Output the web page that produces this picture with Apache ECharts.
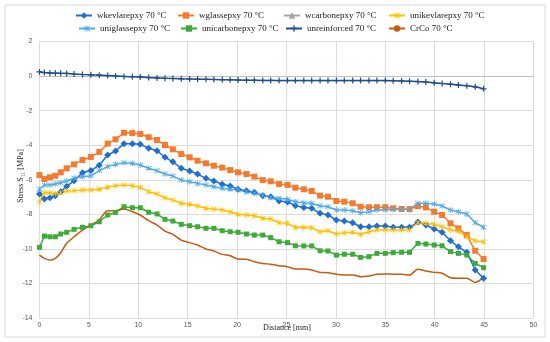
<!DOCTYPE html>
<html><head><meta charset="utf-8">
<script src="https://cdn.jsdelivr.net/npm/echarts@6/dist/echarts.min.js"></script>
<style>html,body{margin:0;padding:0;background:#fff}#c{width:550px;height:342px}</style>
</head><body><div id="c"></div>
<script>
const distance = [0,0.5,1.05,1.6,2.15,2.75,3.5,4.35,5.2,6.05,6.9,7.7,8.55,9.4,10.2,11.05,11.9,12.7,13.5,14.35,15.2,16.0,16.85,17.65,18.5,19.3,20.1,20.95,21.75,22.6,23.4,24.25,25.1,25.9,26.75,27.55,28.4,29.2,30.05,30.85,31.7,32.5,33.35,34.15,35.0,35.8,36.65,37.45,38.3,39.1,39.95,40.75,41.6,42.4,43.25,44.1,44.95];
const wkevlarepxy = [-6.83,-7.11,-7.04,-6.92,-6.69,-6.38,-6.06,-5.60,-5.47,-5.16,-4.57,-4.34,-3.91,-3.92,-3.95,-4.18,-4.32,-4.70,-4.96,-5.34,-5.49,-5.67,-5.92,-6.07,-6.26,-6.36,-6.55,-6.63,-6.73,-6.92,-6.98,-7.23,-7.29,-7.50,-7.60,-7.65,-7.94,-8.04,-8.33,-8.39,-8.49,-8.72,-8.72,-8.68,-8.68,-8.75,-8.75,-8.75,-8.45,-8.62,-8.85,-9.04,-9.53,-9.88,-10.20,-11.22,-11.70];
const wglassepxy = [-5.73,-5.96,-5.86,-5.77,-5.57,-5.34,-5.11,-4.86,-4.68,-4.39,-3.91,-3.66,-3.28,-3.30,-3.35,-3.54,-3.70,-3.99,-4.24,-4.51,-4.70,-4.90,-5.05,-5.19,-5.30,-5.44,-5.57,-5.67,-5.82,-6.02,-6.09,-6.25,-6.30,-6.46,-6.55,-6.65,-6.92,-6.98,-7.23,-7.27,-7.36,-7.56,-7.59,-7.59,-7.59,-7.65,-7.69,-7.70,-7.53,-7.60,-7.85,-8.04,-8.52,-8.81,-9.20,-10.11,-10.59];
const wcarbonepxy = [];
const unikevlarepxy = [-7.27,-6.75,-6.75,-6.79,-6.75,-6.65,-6.63,-6.59,-6.59,-6.55,-6.44,-6.34,-6.30,-6.34,-6.44,-6.69,-6.83,-7.04,-7.17,-7.36,-7.42,-7.52,-7.65,-7.69,-7.75,-7.85,-8.00,-8.04,-8.08,-8.23,-8.27,-8.49,-8.52,-8.75,-8.75,-8.78,-9.01,-8.95,-9.14,-9.06,-9.04,-9.16,-9.01,-8.91,-8.91,-8.91,-8.91,-8.91,-8.49,-8.52,-8.58,-8.72,-8.91,-8.97,-9.30,-9.53,-9.59];
const uniglassepxy = [-6.55,-6.30,-6.30,-6.25,-6.17,-6.07,-5.90,-5.82,-5.77,-5.47,-5.24,-5.11,-5.01,-5.05,-5.15,-5.34,-5.48,-5.67,-5.78,-6.02,-6.11,-6.21,-6.30,-6.40,-6.50,-6.55,-6.59,-6.69,-6.78,-6.88,-7.02,-7.07,-7.13,-7.27,-7.33,-7.36,-7.52,-7.56,-7.75,-7.75,-7.79,-7.91,-7.85,-7.75,-7.75,-7.71,-7.71,-7.71,-7.36,-7.36,-7.40,-7.52,-7.75,-7.85,-7.98,-8.49,-8.75];
const unicarbonepxy = [-9.91,-9.26,-9.30,-9.30,-9.14,-9.04,-8.87,-8.75,-8.66,-8.43,-8.04,-7.89,-7.56,-7.62,-7.62,-7.88,-7.98,-8.29,-8.39,-8.58,-8.66,-8.72,-8.81,-8.81,-8.95,-9.01,-9.04,-9.14,-9.20,-9.20,-9.35,-9.59,-9.64,-9.82,-9.83,-9.83,-10.11,-10.12,-10.36,-10.31,-10.31,-10.49,-10.45,-10.26,-10.26,-10.22,-10.20,-10.20,-9.68,-9.72,-9.78,-9.82,-10.16,-10.26,-10.36,-10.84,-11.09];
const unreinforced = [0.24,0.20,0.18,0.17,0.16,0.15,0.12,0.09,0.07,0.05,0.03,0.01,-0.02,-0.04,-0.06,-0.09,-0.11,-0.13,-0.14,-0.16,-0.17,-0.18,-0.19,-0.20,-0.21,-0.22,-0.23,-0.24,-0.24,-0.25,-0.25,-0.26,-0.26,-0.26,-0.26,-0.26,-0.26,-0.26,-0.26,-0.26,-0.26,-0.26,-0.26,-0.26,-0.26,-0.27,-0.28,-0.30,-0.32,-0.35,-0.39,-0.43,-0.47,-0.52,-0.56,-0.62,-0.74];
const crco = [-10.36,-10.55,-10.65,-10.55,-10.22,-9.68,-9.30,-8.91,-8.62,-8.33,-7.79,-7.79,-7.69,-7.85,-8.04,-8.37,-8.62,-8.97,-9.16,-9.49,-9.64,-9.78,-10.01,-10.12,-10.32,-10.40,-10.59,-10.60,-10.74,-10.84,-10.89,-10.97,-11.03,-11.17,-11.17,-11.22,-11.36,-11.38,-11.47,-11.51,-11.51,-11.61,-11.57,-11.47,-11.45,-11.47,-11.47,-11.51,-11.18,-11.28,-11.36,-11.41,-11.67,-11.70,-11.70,-11.94,-11.65];

const xTitle = 'Distance [mm]';
const yTitle = 'Stress S\u2081\u2081 [MPa]';

const PLUS = 'path://M4,0H6V4H10V6H6V10H4V6H0V4H4Z';
const STAR = 'path://M1,0L5,4L9,0L10,1L6,5L10,9L9,10L5,6L1,10L0,9L4,5L0,1ZM4.4,-1H5.6V11H4.4Z';

const defs = [
  {name:'wkevlarepxy 70 °C', data:wkevlarepxy, color:'#1F6FD1', symbol:'diamond', size:7, lx:75, ly:11},
  {name:'wglassepxy 70 °C', data:wglassepxy, color:'#F47B2E', symbol:'rect', size:6, lx:177, ly:11},
  {name:'wcarbonepxy 70 °C', data:wcarbonepxy, color:'#A5A5A5', symbol:'triangle', size:6, lx:283, ly:11},
  {name:'unikevlarepxy 70 °C', data:unikevlarepxy, color:'#FFC000', symbol:STAR, size:6, lx:388, ly:11},
  {name:'uniglassepxy 70 °C', data:uniglassepxy, color:'#4FAAE8', symbol:STAR, size:6, lx:78, ly:24},
  {name:'unicarbonepxy 70 °C', data:unicarbonepxy, color:'#3DAA3A', symbol:'rect', size:5, lx:180, ly:24},
  {name:'unreinforced 70 °C', data:unreinforced, color:'#1F4E8C', symbol:PLUS, size:6, lx:285, ly:24},
  {name:'CrCo 70 °C', data:crco, color:'#C55A11', symbol:'none', size:0, lx:388, ly:24}
];

const chart = echarts.init(document.getElementById('c'));
const series = defs.map(d => ({
  name: d.name, type: 'line',
  data: d.data.map((v, i) => [distance[i], v]),
  symbol: d.symbol, symbolSize: d.size, showSymbol: d.symbol !== 'none',
  smooth: d.symbol === 'none' ? 0.3 : false,
  lineStyle: {color: d.color, width: 1.5},
  itemStyle: {color: d.color},
  animation: false, z: 2
}));
const legends = defs.map(d => ({
  data: [d.name], left: d.lx, top: d.ly, itemWidth: 16, itemHeight: 8, itemGap: 0,
  textStyle: {fontFamily: 'Liberation Serif', fontSize: 9, color: '#222'},
  padding: 0
}));

chart.setOption({
  animation: false,
  backgroundColor: '#fff',
  legend: legends,
  grid: {left: 39.5, right: 16.5, top: 41.5, bottom: 24, containLabel: false, outerBoundsMode: 'none'},
  xAxis: {
    type: 'value', min: 0, max: 50, interval: 5,
    axisLine: {onZero: true, lineStyle: {color: '#BFBFBF'}},
    axisTick: {show: false},
    axisLabel: {fontFamily: 'Liberation Sans', fontSize: 7, color: '#595959', margin: 4},
    splitLine: {show: true, lineStyle: {color: '#DDDDDD', width: 1}}
  },
  yAxis: {
    type: 'value', min: -14, max: 2, interval: 2,
    axisLine: {show: false}, axisTick: {show: false},
    axisLabel: {fontFamily: 'Liberation Sans', fontSize: 7, color: '#595959', margin: 7},
    splitLine: {show: true, lineStyle: {color: '#DDDDDD', width: 1}}
  },
  graphic: [
    {type: 'rect', shape: {x: 5, y: 5, width: 540, height: 332}, style: {fill: 'none', stroke: '#D9D9D9', lineWidth: 1}, z: -1},
    {type: 'text', x: 287, y: 328, style: {text: xTitle, font: '8px "Liberation Serif"', fill: '#222', textAlign: 'center', textVerticalAlign: 'middle'}},
    {type: 'text', x: 21, y: 176, rotation: Math.PI / 2, style: {text: yTitle, font: '8px "Liberation Serif"', fill: '#222', textAlign: 'center', textVerticalAlign: 'middle'}}
  ],
  series: series
});
</script></body></html>
